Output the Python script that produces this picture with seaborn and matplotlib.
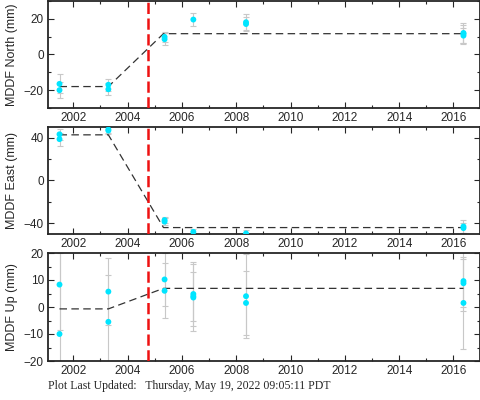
import matplotlib
matplotlib.use("Agg")
import matplotlib.pyplot as plt
from matplotlib.ticker import MultipleLocator
import seaborn as sns
import pandas as pd

sns.set_style("ticks")
plt.rcParams["font.family"] = ["Liberation Sans", "DejaVu Sans"]

# 관측 시점 / 값 / 오차
t_north = [2001.49, 2001.49, 2003.29, 2003.29, 2005.36, 2005.36, 2006.42,
           2008.36, 2008.36, 2016.37, 2016.37, 2016.37]
north = [-16.5, -20.0, -17.0, -19.5, 8.5, 9.8, 19.5, 17.0, 18.0, 10.5, 11.5, 12.0]
north_err = [5.3, 4.6, 3.5, 3.4, 3.2, 3.0, 3.4, 4.0, 4.5, 4.5, 5.0, 5.5]

t_east = [2001.49, 2001.49, 2003.29, 2003.29, 2005.36, 2005.36, 2006.42,
          2008.36, 2016.37, 2016.37]
east = [43.0, 38.5, 47.5, 46.5, -37.0, -38.5, -48.0, -49.5, -43.0, -44.5]
east_err = [5.0, 6.0, 3.0, 3.0, 3.0, 3.0, 3.0, 3.0, 6.0, 5.0]

t_up = [2001.49, 2001.49, 2003.29, 2003.29, 2005.36, 2005.36, 2006.42, 2006.42,
        2006.42, 2008.36, 2008.36, 2016.37, 2016.37, 2016.37]
up = [8.3, -10.0, 5.7, -5.5, 10.2, 6.0, 4.8, 4.0, 3.5, 4.0, 1.5, 9.6, 8.8, 1.5]
up_err = [17.0, 30.0, 12.5, 17.5, 9.8, 10.2, 11.7, 9.0, 12.4, 15.5, 11.7, 11.0, 8.8, 17.2]

# 모델 (꺾은선)
t_model = [2001.49, 2003.29, 2005.32, 2016.37]
north_model = [-18.0, -18.0, 11.6, 11.6]
east_model = [42.5, 42.5, -44.0, -44.0]
up_model = [-0.7, -0.7, 6.9, 6.9]

quake = 2004.75

panels = [
    ("MDDF North (mm)", t_north, north, north_err, north_model, (-30, 30), 20, 10),
    ("MDDF East (mm)", t_east, east, east_err, east_model, (-50, 50), 40, 20),
    ("MDDF Up (mm)", t_up, up, up_err, up_model, (-20, 20), 10, 5),
]

fig = plt.figure(figsize=(4.81, 4.0), dpi=100)
boxes = [[0.1, 0.73, 0.898, 0.268], [0.1, 0.415, 0.898, 0.268], [0.1, 0.0975, 0.898, 0.27]]

for box, (label, t, y, err, model, ylim, major, minor) in zip(boxes, panels):
    ax = fig.add_axes(box)
    ax.errorbar(t, y, yerr=err, fmt="none", ecolor="#c8c8c8", elinewidth=0.8,
                capsize=2, capthick=0.8, zorder=1)
    df = pd.DataFrame({"t": t, "y": y})
    sns.scatterplot(data=df, x="t", y="y", color="#00e5ff", s=18, edgecolor="none",
                    ax=ax, zorder=3)
    dm = pd.DataFrame({"t": t_model, "y": model})
    sns.lineplot(data=dm, x="t", y="y", color="#333333", lw=0.9, ax=ax,
                 dashes=False, zorder=2).lines[-1].set_dashes([6, 3.5])
    ax.axvline(quake, color="#ee1111", lw=1.8, dashes=(4.5, 1.8), zorder=4)

    ax.set_xlim(2001.07, 2016.98)
    ax.set_ylim(*ylim)
    ax.xaxis.set_major_locator(MultipleLocator(2))
    ax.xaxis.set_minor_locator(MultipleLocator(1))
    ax.yaxis.set_major_locator(MultipleLocator(major))
    ax.yaxis.set_minor_locator(MultipleLocator(minor))
    ax.tick_params(which="both", direction="in", top=True, right=True,
                   labelsize=8.5, pad=3, width=0.8)
    ax.tick_params(which="major", length=4.5)
    ax.tick_params(which="minor", length=2.5)
    for s in ax.spines.values():
        s.set_linewidth(1.3)
    ax.set_xlabel("")
    ax.set_ylabel(label, fontsize=9, labelpad=4)

fig.text(0.1, 0.027, "Plot Last Updated:   Thursday, May 19, 2022 09:05:11 PDT",
         family=["Liberation Serif", "DejaVu Serif"], fontsize=8.5)

plt.savefig("out.png", dpi=100)
